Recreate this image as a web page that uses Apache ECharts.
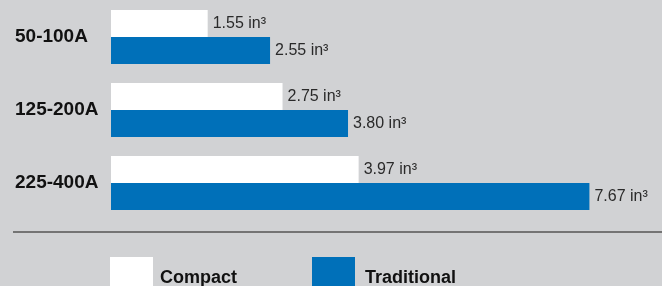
<!DOCTYPE html>
<html>
<head>
<meta charset="utf-8">
<script src="https://cdn.jsdelivr.net/npm/echarts@6/dist/echarts.min.js"></script>
<style>
  html, body { margin: 0; padding: 0; background: #d1d2d4; }
  #main { width: 662px; height: 286px; }
</style>
</head>
<body>
<div id="main"></div>
<script>
  // ratings and volumes (cubic inches)
  var categories = ['50-100A', '125-200A', '225-400A']
  var compact = [1.55, 2.75, 3.97]
  var traditional = [2.55, 3.80, 7.67]
  var unit = ' in³'

  var font = '"Liberation Sans Narrow", "Liberation Sans", sans-serif'

  var chart = echarts.init(document.getElementById('main'))

  function valueLabel () {
    return {
      show: true,
      position: 'right',
      distance: 5,
      fontFamily: font,
      fontSize: 16,
      color: '#2a2a2a',
      formatter: function (p) { return p.value.toFixed(2) + unit }
    }
  }

  chart.setOption({
    backgroundColor: '#d1d2d4',
    animation: false,
    grid: { left: 111, right: 52, top: 0.5, height: 219 },
    xAxis: {
      type: 'value',
      min: 0,
      max: 8,
      show: false
    },
    yAxis: {
      type: 'category',
      inverse: true,
      data: categories,
      axisLine: { show: false },
      axisTick: { show: false },
      axisLabel: {
        align: 'left',
        margin: 96,
        fontFamily: font,
        fontWeight: 'bold',
        fontSize: 19,
        color: '#111'
      }
    },
    legend: [
      {
        data: ['Compact'],
        left: 110, top: 257, padding: 0,
        icon: 'rect', itemWidth: 43, itemHeight: 43,
        textStyle: { fontFamily: font, fontWeight: 'bold', fontSize: 18, color: '#111', padding: [0, 0, 0, 2] }
      },
      {
        data: ['Traditional'],
        left: 312, top: 257, padding: 0,
        icon: 'rect', itemWidth: 43, itemHeight: 43,
        textStyle: { fontFamily: font, fontWeight: 'bold', fontSize: 18, color: '#111', padding: [0, 0, 0, 5] }
      }
    ],
    graphic: [{
      type: 'line',
      shape: { x1: 13, y1: 232, x2: 662, y2: 232 },
      style: { stroke: '#555', lineWidth: 1.5 }
    }],
    series: [
      {
        name: 'Compact',
        type: 'bar',
        data: compact,
        barWidth: 27,
        barGap: '0%',
        itemStyle: { color: '#ffffff' },
        label: valueLabel()
      },
      {
        name: 'Traditional',
        type: 'bar',
        data: traditional,
        barWidth: 27,
        itemStyle: { color: '#0070b9' },
        label: valueLabel()
      }
    ]
  })
</script>
</body>
</html>
